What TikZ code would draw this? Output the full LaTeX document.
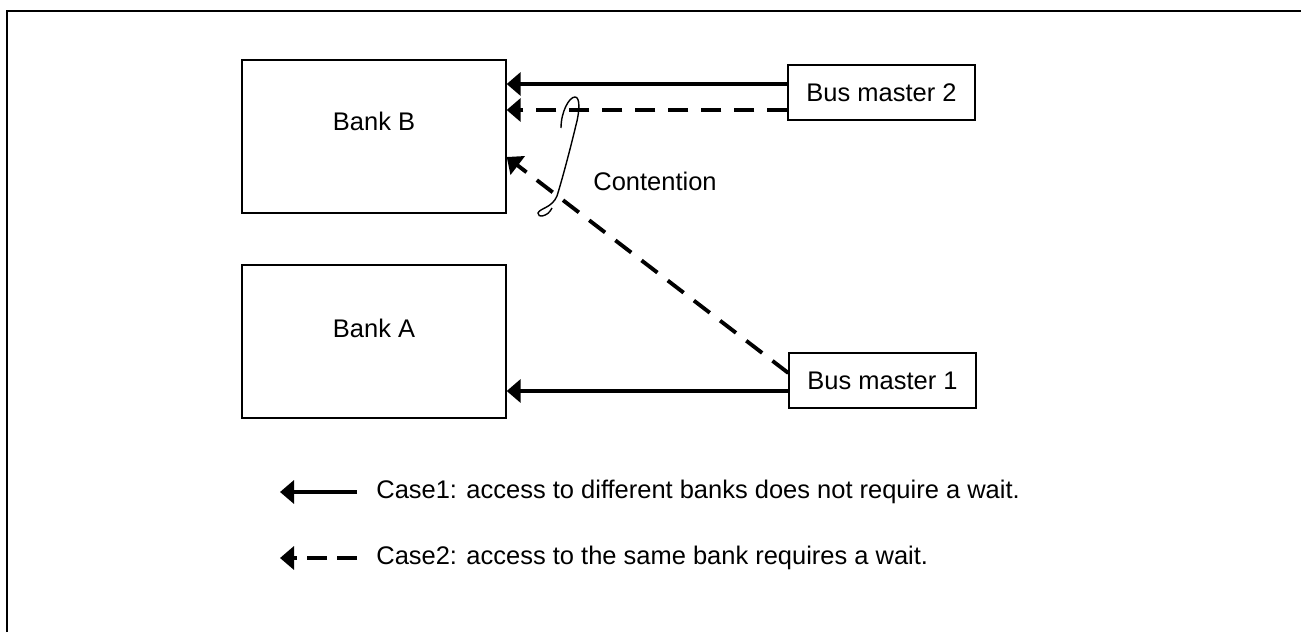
\documentclass[tikz,border=0pt]{standalone}
\usepackage{fontspec}
\setmainfont{Liberation Sans}
\usepackage{tikz}
\usetikzlibrary{arrows.meta, positioning, calc}

\begin{document}
\begin{tikzpicture}[
  x=0.02cm, y=-0.02cm,
  every node/.style = {font=\fontsize{14.5}{17}\selectfont},
  bank/.style = {
    rectangle, draw=black, line width=0.8pt,
    minimum width=5.28cm, minimum height=3.06cm
  },
  master/.style = {
    rectangle, draw=black, line width=0.8pt,
    minimum width=3.74cm, minimum height=1.1cm
  },
  arr/.style = {-{Triangle[length=0.28cm, width=0.46cm]}, line width=2.2pt},
  dasharr/.style = {arr, dash pattern=on 0.4cm off 0.26cm},
  frame/.style = {line width=1.1pt}
]
\useasboundingbox (0,0) rectangle (1301,632);
\draw[frame] (7,632) |- (1301,11);

% Nodes
\node[bank, label={[yshift=0.31cm]center:Bank B}] (bankB) at (374,136.5) {};
\node[bank, label={[yshift=0.27cm]center:Bank A}] (bankA) at (374,341.5) {};
\node[master] (bm2) at (881.5,92.5) {Bus master 2};
\node[master] (bm1) at (882.5,380.5) {Bus master 1};
\node (cont) at (655,181) {Contention};

% Arrow ends
\coordinate (bm2s) at ([yshift=0.17cm]bm2.west);
\coordinate (bm2d) at ([yshift=-0.35cm]bm2.west);
\coordinate (bm1s) at ([yshift=-0.21cm]bm1.west);
\coordinate (bm1d) at ([yshift=0.15cm]bm1.west);
\coordinate (bBd) at ([yshift=-0.41cm]bankB.east);

% Arrows
\draw[arr] (bm2s) -- (bm2s -| bankB.east);
\draw[dasharr] (bm2d) -- (bm2d -| bankB.east);
\draw[dasharr] (bm1d) -- (bBd);
\draw[arr] (bm1s) -- (bm1s -| bankA.east);

% Contention mark
\draw[line width=0.8pt] (561,128) .. controls (561,112) and (569,97) .. (575,97)
  .. controls (580,97) and (580,110) .. (576,125)
  .. controls (570,150) and (562,180) .. (557,196)
  .. controls (552,208) and (540,208) .. (538,213)
  .. controls (537,218) and (548,217) .. (552,208);

% Legend
\node[anchor=west, inner sep=0pt] (case1) at (376,492) {Case1: access to different banks does not require a wait.};
\node[anchor=west, inner sep=0pt] (case2) at (376,558) {Case2: access to the same bank requires a wait.};
\coordinate (l1) at ([xshift=-0.38cm]case1.west);
\coordinate (l2) at ([xshift=-0.38cm]case2.west);
\draw[arr] (l1) -- ++(-77,0);
\draw[arr, dash pattern=on 0.4cm off 0.2cm] (l2) -- ++(-77,0);

\end{tikzpicture}
\end{document}
